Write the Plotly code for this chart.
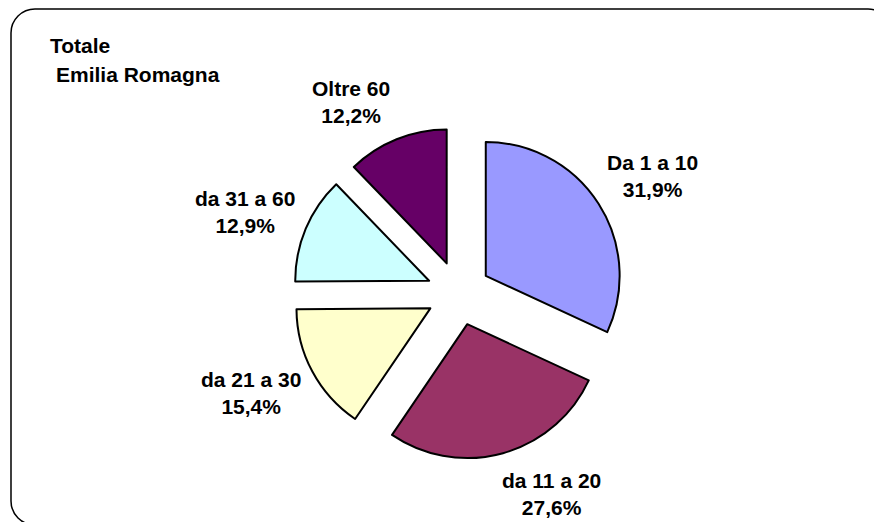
import plotly.graph_objects as go

W, H = 882, 522
OFF = 8  # page body margin shifts the figure by this many pixels

categories = ["Da 1 a 10", "da 11 a 20", "da 21 a 30", "da 31 a 60", "Oltre 60"]
shares = [31.9, 27.6, 15.4, 12.9, 12.2]
colors = ["#9999FF", "#993366", "#FFFFCC", "#CCFFFF", "#660066"]

# label centres in pixels, same order as categories
label_pos = [(652, 176), (551, 494), (251, 393), (245, 212), (351, 102)]


def px(x):
    return (x - OFF) / W


def py(y):
    return 1 - (y - OFF) / H


fig = go.Figure()

fig.add_trace(go.Pie(
    labels=categories,
    values=shares,
    sort=False,
    direction="clockwise",
    rotation=0,
    pull=[0.24] * len(shares),
    marker=dict(colors=colors, line=dict(color="black", width=2)),
    textinfo="none",
    hoverinfo="label+percent",
    showlegend=False,
    domain=dict(x=[px(458.7 - 166), px(458.7 + 166)],
                y=[py(293.2 + 166), py(293.2 - 166)]),
))

font = dict(family="Liberation Sans, Arial, sans-serif", size=21, color="black")

for cat, val, (x, y) in zip(categories, shares, label_pos):
    txt = "<b>{}<br>{}%</b>".format(cat, "{:.1f}".format(val).replace(".", ","))
    fig.add_annotation(x=px(x), y=py(y), xref="paper", yref="paper",
                       text=txt, showarrow=False, font=font,
                       xanchor="center", yanchor="middle", align="center")

fig.add_annotation(x=px(48), y=py(46), xref="paper", yref="paper",
                   text="<b>Totale</b>", showarrow=False, font=font,
                   xanchor="left", yanchor="middle")
fig.add_annotation(x=px(54), y=py(75), xref="paper", yref="paper",
                   text="<b>Emilia Romagna</b>", showarrow=False, font=font,
                   xanchor="left", yanchor="middle")

# rounded chart frame (runs past the right and bottom edges)
x0, y0, x1, y1, r = 11, 9, 892, 525, 24
k = 0.5523 * r
pts = [
    ("M", [(x0 + r, y0)]),
    ("L", [(x1 - r, y0)]),
    ("C", [(x1 - r + k, y0), (x1, y0 + r - k), (x1, y0 + r)]),
    ("L", [(x1, y1 - r)]),
    ("C", [(x1, y1 - r + k), (x1 - r + k, y1), (x1 - r, y1)]),
    ("L", [(x0 + r, y1)]),
    ("C", [(x0 + r - k, y1), (x0, y1 - r + k), (x0, y1 - r)]),
    ("L", [(x0, y0 + r)]),
    ("C", [(x0, y0 + r - k), (x0 + r - k, y0), (x0 + r, y0)]),
]
path = " ".join(
    cmd + " " + " ".join("{:.5f},{:.5f}".format(px(a), py(b)) for a, b in p)
    for cmd, p in pts
) + " Z"
fig.add_shape(type="path", path=path, xref="paper", yref="paper",
              line=dict(color="black", width=1.5))

fig.update_layout(
    width=W, height=H,
    margin=dict(l=0, r=0, t=0, b=0),
    paper_bgcolor="white",
    plot_bgcolor="white",
)

fig.write_html("out.html")
